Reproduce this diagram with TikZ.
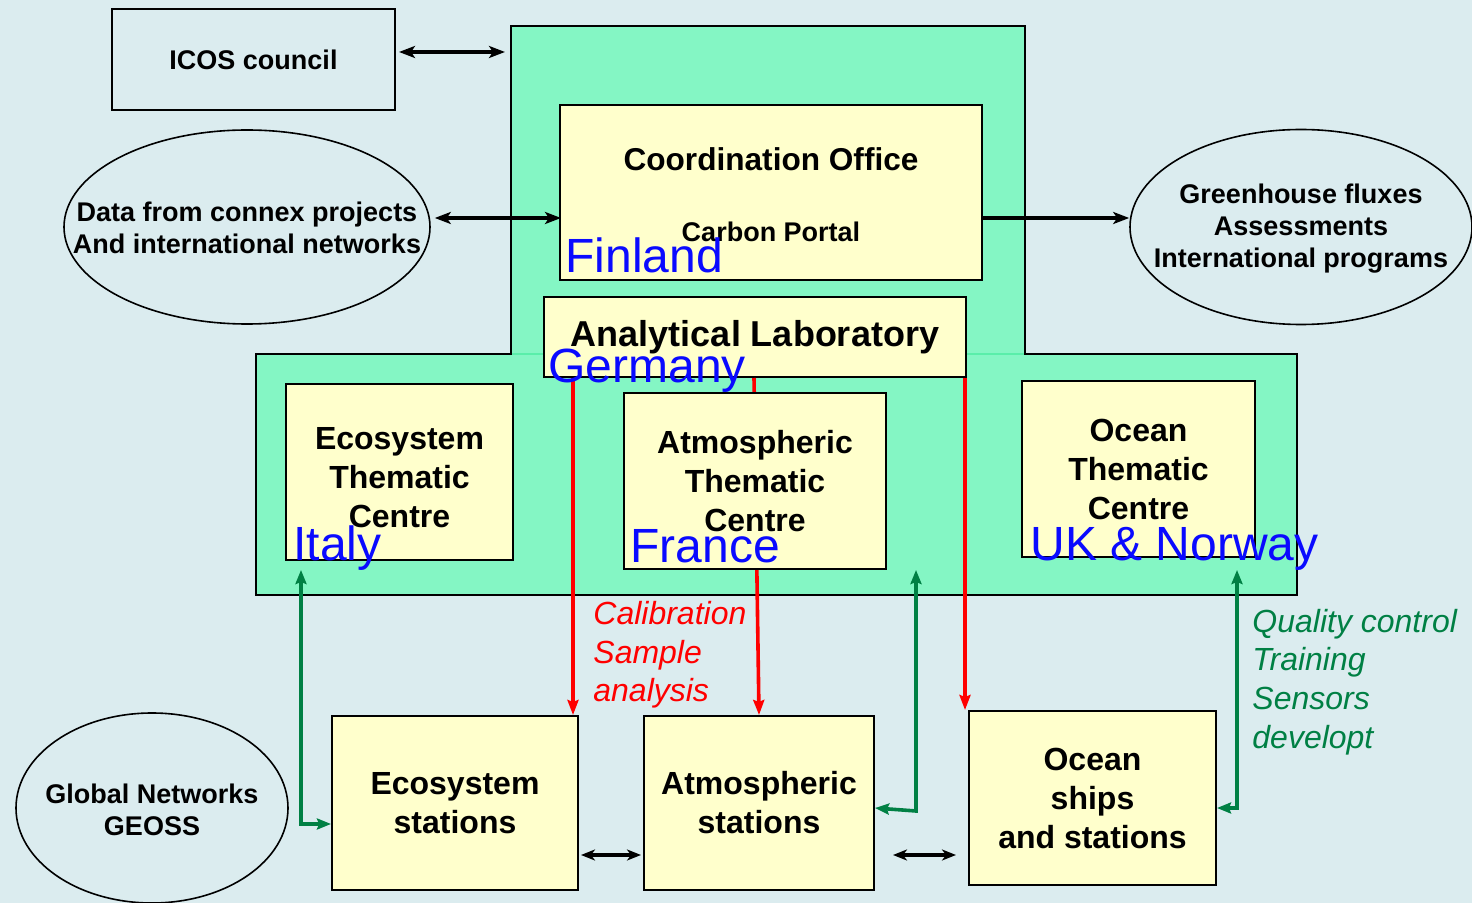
\documentclass[tikz,border=0pt]{standalone}
\usepackage{fontspec}
\setmainfont{Liberation Sans}
\usetikzlibrary{shapes.geometric,arrows.meta,calc}
\definecolor{bgc}{RGB}{219,236,239}
\definecolor{gfill}{RGB}{132,246,196}
\definecolor{seam}{RGB}{90,238,170}
\definecolor{yfill}{RGB}{255,255,204}
\definecolor{cblue}{RGB}{10,10,255}
\definecolor{cred}{RGB}{255,0,0}
\definecolor{cgreen}{RGB}{0,128,68}
\tikzset{
  ybox/.style={draw=black, line width=1pt, fill=yfill, inner sep=0pt, align=center,
    font=\bfseries\fontsize{16}{19.5}\selectfont},
  oval/.style={ellipse, draw=black, line width=0.8pt, inner sep=0pt},
  ovaltext/.style={inner sep=0pt, align=center, font=\bfseries\fontsize{13.5}{16}\selectfont},
  ctry/.style={text=cblue, font=\fontsize{24}{28}\selectfont, anchor=base west, inner sep=0pt},
  blk/.style={line width=2pt, draw=black},
  btip/.tip={Stealth[length=8pt,width=6pt,inset=2pt]},
  stip/.tip={Stealth[length=7pt,width=5.5pt,inset=2pt]},
  rtip/.tip={Stealth[length=7.5pt,width=5.5pt,inset=1pt]},
  gtip/.tip={Stealth[length=7pt,width=5.5pt,inset=1pt]},
  bdbl/.style={blk, btip-btip},
  sdbl/.style={blk, stip-stip},
  rarr/.style={draw=cred, line width=1.8pt, -rtip},
  garr/.style={draw=cgreen, line width=1.8pt, gtip-gtip},
}
\begin{document}
\begin{tikzpicture}[x=0.5pt,y=-0.5pt]
\fill[bgc] (0,0) rectangle (1472,903);
\useasboundingbox (0,0) rectangle (1472,903);

% green organisation area
\draw[fill=gfill, line width=1pt] (511,26) -- (1025,26) -- (1025,354) -- (1297,354)
  -- (1297,595) -- (256,595) -- (256,354) -- (511,354) -- cycle;
\draw[seam, line width=1.2pt] (512,354) -- (1024,354);
\coordinate (gLeft) at (511,52);

% top boxes
\node[ybox, fill=none, minimum width=141.5pt, minimum height=50.5pt,
  font=\bfseries\fontsize{13.5}{16}\selectfont] (icos) at (253.5,59.5) {ICOS council};
\node[ybox, minimum width=211pt, minimum height=87.5pt] (coord) at (771,192.5) {};
\node[inner sep=0pt, font=\bfseries\fontsize{15.8}{18}\selectfont] (coordT) at (771,159) {Coordination Office};
\node[inner sep=0pt, font=\bfseries\fontsize{13.5}{16}\selectfont] (carbon) at (771,232) {Carbon Portal};
\node[ctry] (finland) at (565,273) {Finland};

% ellipses
\node[oval, minimum width=183pt, minimum height=97pt] (data) at (247,227) {};
\node[ovaltext] (dataT) at (247,228) {Data from connex projects\\And international networks};
\node[oval, minimum width=171pt, minimum height=97.5pt] (ghg) at (1301,227) {};
\node[ovaltext] (ghgT) at (1301,229) {Greenhouse fluxes\\Assessments\\International programs};
\node[oval, minimum width=136pt, minimum height=95pt] (geoss) at (152,808) {};
\node[ovaltext] (geossT) at (152,810) {Global Networks\\GEOSS};

% analytical lab and stations
\node[ybox, minimum width=211pt, minimum height=40pt,
  font=\bfseries\fontsize{18}{21}\selectfont] (alab) at (755,337) {Analytical Laboratory};
\node[ybox, minimum width=123pt, minimum height=87pt] (ecst) at (455,803) {Ecosystem\\stations};
\node[ybox, minimum width=115pt, minimum height=87pt] (atst) at (759,803) {Atmospheric\\stations};
\node[ybox, minimum width=123.5pt, minimum height=87pt] (ocst) at (1092.5,798) {Ocean\\ships\\and stations};

% red calibration arrows
\draw[rarr] (alab.south -| 573,0) -- (ecst.north -| 573,0);
\draw[rarr] (alab.south -| 754,0) -- (atst.north -| 759,0);
\draw[rarr] (alab.south -| 965,0) -- (ocst.north -| 965,0);

% thematic centres
\node[ybox, minimum width=113.5pt, minimum height=88pt] (ecth) at (399.5,472) {\\[-3pt]Ecosystem\\Thematic\\Centre};
\node[ybox, minimum width=131pt, minimum height=88pt] (atth) at (755,481) {Atmospheric\\Thematic\\Centre};
\node[ybox, minimum width=116.5pt, minimum height=88pt] (octh) at (1138.5,469) {Ocean\\Thematic\\Centre};

\node[ctry] (germany) at (548,383) {Germany};
\node[ctry] (italy) at (293,560) {Italy};
\node[ctry] (france) at (630,562) {France};
\node[ctry] (uknor) at (1030,560) {UK \& Norway};

% black connectors
\draw[bdbl, shorten <=1.5pt, shorten >=3pt] (icos.east |- 0,52) -- (gLeft);
\draw[bdbl, shorten <=2pt, shorten >=-1pt] (data.east |- 0,218) -- (coord.west |- 0,218);
\draw[blk, -btip] (coord.east |- 0,218) -- (ghg.west |- 0,218);
\draw[sdbl, shorten <=1pt, shorten >=1pt] (ecst.east |- 0,855) -- (atst.west |- 0,855);
\draw[sdbl, shorten <=9pt, shorten >=6pt] (atst.east |- 0,855) -- (ocst.west |- 0,855);

% green connectors
\coordinate (gAt) at (301,570);
\coordinate (gA) at (301,824);
\draw[garr] (gAt) -- (gA) -- (ecst.west |- gA);
\coordinate (gBt) at (916,570);
\coordinate (gB) at (916,811);
\draw[garr] (gBt) -- (gB) -- (atst.east |- 0,808);
\coordinate (gCt) at (1237,570);
\coordinate (gC) at (1237,808);
\draw[garr] (gCt) -- (gC) -- (ocst.east |- gC);

% annotations
\node[anchor=west, inner sep=0pt, align=left, text=cred,
  font=\itshape\fontsize{16}{19.3}\selectfont] (calib) at (593,655) {Calibration\\Sample\\analysis};
\node[anchor=west, inner sep=0pt, align=left, text=cgreen,
  font=\itshape\fontsize{16}{19.3}\selectfont] (qc) at (1252,682) {Quality control\\Training\\Sensors\\developt};
\end{tikzpicture}
\end{document}
